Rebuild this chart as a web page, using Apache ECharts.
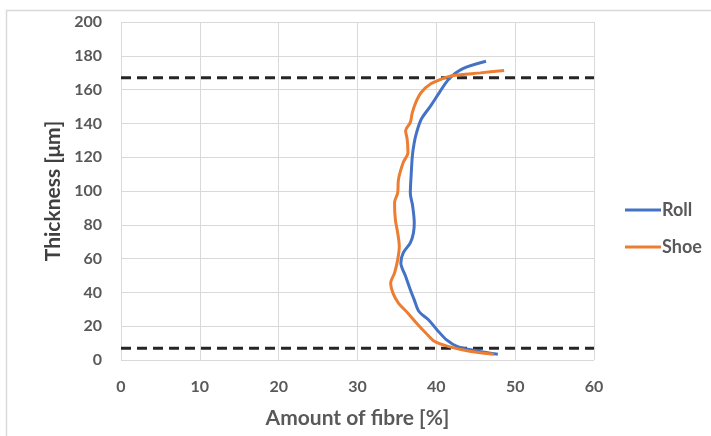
<!DOCTYPE html>
<html>
<head>
<meta charset="utf-8">
<script src="https://cdn.jsdelivr.net/npm/echarts@6/dist/echarts.min.js"></script>
<style>html,body{margin:0;padding:0;background:#fff}#c{width:711px;height:436px}</style>
</head>
<body>
<div id="c"></div>
<script>
// Roll: [amount of fibre %, thickness µm]
const rollData = [
  [47.8, 3.4], [45.0, 5.5], [42.7, 7.9], [41.3, 11.9], [40.1, 17.8], [39.0, 23.8],
  [37.8, 28.7], [37.2, 35.6], [36.7, 41.6], [36.1, 49.5], [35.5, 57.4], [35.8, 63.4],
  [36.7, 69.3], [37.1, 75.2], [37.2, 81.2], [37.0, 91.0], [36.7, 99.0], [36.8, 108.9],
  [36.96, 120.8], [37.2, 128.7], [37.5, 134.7], [38.1, 142.6], [39.3, 150.5],
  [40.4, 158.4], [41.6, 166.3], [43.3, 172.3], [46.3, 176.8]
];
// Shoe: [amount of fibre %, thickness µm]
const shoeData = [
  [47.3, 3.4], [44.4, 5.0], [41.6, 7.9], [39.8, 10.9], [38.7, 15.8], [37.5, 21.8],
  [36.4, 27.7], [35.2, 33.7], [34.5, 39.6], [34.2, 45.5], [34.7, 51.5], [35.1, 59.4],
  [35.3, 67.3], [35.1, 75.2], [34.8, 83.2], [34.7, 93.1], [35.1, 99.0], [35.2, 106.9],
  [35.8, 116.8], [36.4, 122.8], [36.3, 130.7], [36.1, 135.6], [36.7, 140.6],
  [36.96, 146.5], [37.4, 152.5], [38.1, 158.4], [39.3, 163.4], [40.7, 166.3],
  [42.1, 168.3], [45.6, 169.9], [48.6, 171.3]
];
const dashedLevels = [7, 167];
const xRange = [0, 60];
const yRange = [0, 200];
const seriesNames = ['Roll', 'Shoe'];

const chart = echarts.init(document.getElementById('c'), null, {renderer: 'canvas'});
const tickFont = {color: '#595959', fontFamily: 'Lato', fontWeight: 'bold', fontSize: 16};
const dashSeries = dashedLevels.map(v => ({
  type: 'line', name: 'lvl' + v, data: [[xRange[0], v], [xRange[1], v]],
  symbol: 'none', silent: true, z: 1,
  lineStyle: {color: '#262626', width: 3, type: [10, 6]}
}));
chart.setOption({
  animation: false,
  backgroundColor: '#fff',
  graphic: [{type: 'rect', shape: {x: 6.5, y: 10.5, width: 900, height: 600},
    style: {fill: 'none', stroke: '#d9d9d9', lineWidth: 1.5}, z: -10}],
  grid: {left: 121, right: 117, top: 22, bottom: 76},
  legend: {
    data: seriesNames, orient: 'vertical', left: 620, top: 196, itemGap: 19,
    icon: 'rect', itemWidth: 36, itemHeight: 3,
    textStyle: {color: '#595959', fontFamily: 'Lato', fontWeight: 'bold', fontSize: 18, padding: [0,0,0,-4]}
  },
  xAxis: {
    type: 'value', min: xRange[0], max: xRange[1], interval: 10,
    name: 'Amount of fibre [%]', nameLocation: 'middle', nameGap: 48,
    nameTextStyle: {color: '#595959', fontFamily: 'Lato', fontWeight: 'bold', fontSize: 21},
    axisLine: {show: false}, axisTick: {show: false},
    axisLabel: Object.assign({margin: 19}, tickFont),
    splitLine: {lineStyle: {color: '#d9d9d9', width: 1}}
  },
  yAxis: {
    type: 'value', min: yRange[0], max: yRange[1], interval: 20,
    name: 'Thickness [μm]', nameLocation: 'middle', nameGap: 57,
    nameTextStyle: {color: '#404040', fontFamily: 'Lato', fontWeight: 'bold', fontSize: 21},
    axisLine: {show: false}, axisTick: {show: false},
    axisLabel: Object.assign({margin: 19}, tickFont),
    splitLine: {lineStyle: {color: '#d9d9d9', width: 1}}
  },
  series: dashSeries.concat([
    {type: 'line', name: seriesNames[0], data: rollData, symbol: 'none', smooth: 0.3, z: 3,
     color: '#4472C4', lineStyle: {color: '#4472C4', width: 3}},
    {type: 'line', name: seriesNames[1], data: shoeData, symbol: 'none', smooth: 0.3, z: 4,
     color: '#ED7D31', lineStyle: {color: '#ED7D31', width: 3}}
  ])
});
</script>
</body>
</html>
